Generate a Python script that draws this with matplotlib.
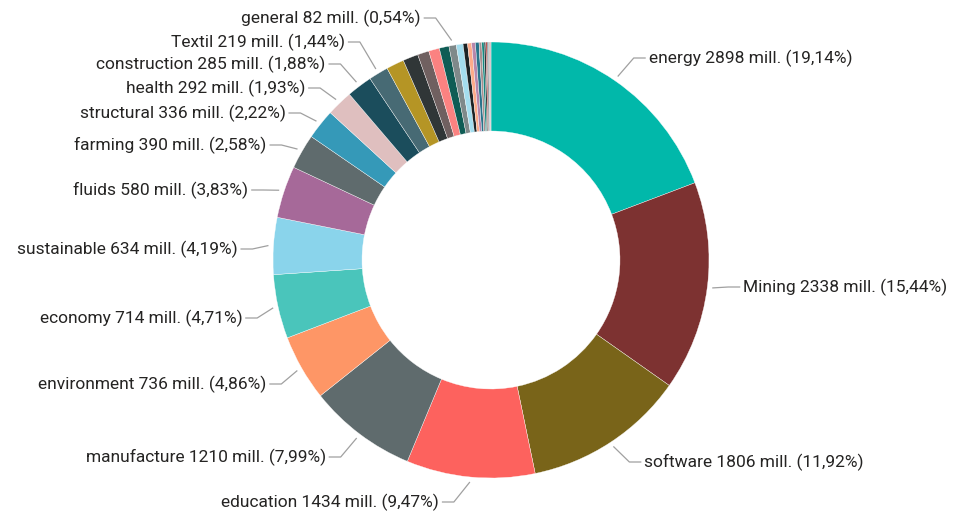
import matplotlib.pyplot as plt
import numpy as np

# slices in clockwise order starting at 12 o'clock (values in mill.)
names = ['energy', 'Mining', 'software', 'education', 'manufacture', 'environment',
         'economy', 'sustainable', 'fluids', 'farming', 'structural', 'health',
         'construction', 'Textil', 's1', 's2', 's3', 's4', 's5', 'general',
         's6', 's7', 's8', 's9', 's10', 's11', 's12', 's13', 's14',
         's15', 's16', 's17', 's18']
values = [2898, 2338, 1806, 1434, 1210, 736, 714, 634, 580, 390, 336, 292,
          285, 219, 199, 170, 128, 120, 108, 82,
          75, 50, 45, 42, 40, 30, 25, 20, 15,
          14, 12, 10, 6]
colors = ['#01B8AA', '#7D3231', '#796419', '#FD625E', '#5F6B6D', '#FE9666',
          '#4AC5BB', '#8AD4EB', '#A66999', '#5F6B6D', '#3599B8', '#DFBFBF',
          '#1B4D5C', '#476A74', '#B59525', '#303637', '#706060', '#FB8281',
          '#0F5C55', '#7F898A', '#A4DDEE', '#1C2325', '#FDAB89', '#B687AC',
          '#28738A', '#A78F8F', '#168980', '#293537', '#BB4A4A',
          '#475052', '#6A9FB0', '#BD7150', '#7B4F71']

# percentages as shown on the labels
pct_text = {'energy': '19,14', 'Mining': '15,44', 'software': '11,92',
            'education': '9,47', 'manufacture': '7,99', 'environment': '4,86',
            'economy': '4,71', 'sustainable': '4,19', 'fluids': '3,83',
            'farming': '2,58', 'structural': '2,22', 'health': '1,93',
            'construction': '1,88', 'Textil': '1,44', 'general': '0,54'}
# label rows (pixels from top)
label_row = {'energy': 58, 'Mining': 287, 'software': 462, 'education': 502,
             'manufacture': 457, 'environment': 384, 'economy': 318,
             'sustainable': 249, 'fluids': 190, 'farming': 145, 'structural': 113,
             'health': 88, 'construction': 64, 'Textil': 42, 'general': 18}

W, H = 955, 514
fig = plt.figure(figsize=(W / 100, H / 100), dpi=100)
ax = fig.add_axes([0, 0, 1, 1])

cx, cy, R, hole = 491, H - 260, 218, 129
wedges, _ = ax.pie(values, colors=colors, startangle=90, counterclock=False,
                   center=(cx, cy), radius=R,
                   wedgeprops=dict(width=R - hole, edgecolor='white', linewidth=0.25))
ax.set_xlim(0, W)
ax.set_ylim(0, H)
ax.set_aspect('equal')
ax.axis('off')

for w, name in zip(wedges, names):
    if name not in label_row:
        continue
    mid = np.deg2rad((w.theta1 + w.theta2) / 2)
    dx, dy = np.cos(mid), np.sin(mid)
    side = 1 if dx >= 0 else -1
    x0, y0 = cx + (R + 5) * dx, cy + (R + 5) * dy
    yl = H - label_row[name]
    ex = x0 + side * 16
    hx = ex + side * 12
    ax.plot([x0, ex, hx], [y0, yl, yl], color='#a0a0a0', lw=0.9,
            solid_capstyle='butt')
    i = names.index(name)
    txt = f'{name} {values[i]} mill. ({pct_text[name]}%)'
    ax.text(hx + side * 3, yl, txt, ha='left' if side > 0 else 'right',
            va='center', fontsize=12.5, family='Roboto', color='#252423')

fig.savefig('out.png', dpi=100)
